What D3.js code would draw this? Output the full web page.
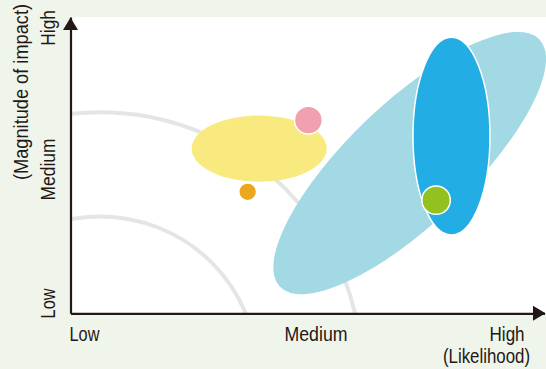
<!DOCTYPE html>
<html>
<head>
<meta charset="utf-8">
<script src="https://cdn.jsdelivr.net/npm/d3@7"></script>
<style>
  html, body { margin: 0; padding: 0; background: #f0f5eb; }
  svg { display: block; }
</style>
</head>
<body>
<svg id="chart" width="546" height="369"></svg>
<script>
// Risk map: likelihood (x) against magnitude of impact (y) on a uniform grid.
const xTickLabels = ["Low", "Medium", "High"];
const xTickValues = [0, 8.27, 14.72];
const yTickLabels = ["Low", "Medium", "High"];
const yTickValues = [0.35, 4.87, 9.65];

// Risk zones: centre (likelihood, impact), half-extents along own axes, tilt (deg)
const zoneX = [6.37, 11.45, 12.86];
const zoneY = [5.56, 5.07, 5.98];
const zoneRx = [2.28, 6.05, 1.30];
const zoneRy = [1.12, 2.05, 3.34];
const zoneTilt = [0, -43.6, 0];

// Individual risks
const riskX = [8.03, 5.98, 12.34];
const riskY = [6.52, 4.10, 3.82];
const riskR = [0.47, 0.30, 0.48];

// Iso-risk contours around a common centre
const contourCentre = [1.0, -2.06];
const contourRadii = [5.33, 8.85];

const zoneFill = ["#f9ea80", "#a2d9e5", "#22ade4"];
const zoneStroke = ["none", "none", "#ffffff"];
const riskFill = ["#f0a0ae", "#eba720", "#93c120"];
const ink = "#231815";
const fontFamily = "'Liberation Sans Narrow', 'Arial Narrow', 'Liberation Sans', Arial, sans-serif";

const svg = d3.select("#chart");
const x = d3.scaleLinear().domain([0, 16]).range([70.5, 544.5]);
const y = d3.scaleLinear().domain([0, 10]).range([313.3, 17.05]);
const len = v => x(v) - x(0);

// plot area
svg.append("rect")
  .attr("x", 71).attr("y", 17)
  .attr("width", 546 - 71).attr("height", y(0) - 17)
  .attr("fill", "#ffffff");

svg.append("clipPath").attr("id", "plot-clip")
  .append("rect")
  .attr("x", 71.5).attr("y", 17)
  .attr("width", 546 - 71.5).attr("height", y(0) - 17);

// contours
svg.append("g").attr("clip-path", "url(#plot-clip)")
  .selectAll("circle").data(contourRadii).join("circle")
  .attr("cx", x(contourCentre[0]))
  .attr("cy", y(contourCentre[1]))
  .attr("r", d => len(d))
  .attr("fill", "none")
  .attr("stroke", "#e5e5e5")
  .attr("stroke-width", 4);

// zones
svg.append("g").selectAll("ellipse").data(zoneX).join("ellipse")
  .attr("transform", (d, i) => `translate(${x(zoneX[i])},${y(zoneY[i])}) rotate(${zoneTilt[i]})`)
  .attr("rx", (d, i) => len(zoneRx[i]))
  .attr("ry", (d, i) => len(zoneRy[i]))
  .attr("fill", (d, i) => zoneFill[i])
  .attr("stroke", (d, i) => zoneStroke[i])
  .attr("stroke-width", 1.5);

// risks
svg.append("g").selectAll("circle").data(riskX).join("circle")
  .attr("cx", (d, i) => x(riskX[i]))
  .attr("cy", (d, i) => y(riskY[i]))
  .attr("r", (d, i) => len(riskR[i]))
  .attr("fill", (d, i) => riskFill[i])
  .attr("stroke", "#ffffff")
  .attr("stroke-width", 1.5);

// x axis
const xTickWidths = [30, 63, 35];
const xAnchors = ["start", "middle", "middle"];
const gx = svg.append("g")
  .attr("transform", `translate(0,${y(0)})`)
  .call(d3.axisBottom(x).tickValues(xTickValues)
    .tickFormat((d, i) => xTickLabels[i]).tickSize(0).tickSizeOuter(0));
gx.select(".domain").attr("stroke", ink).attr("stroke-width", 2.2);
gx.selectAll(".tick text")
  .attr("y", 27.6).attr("dy", null)
  .attr("font-family", fontFamily).attr("font-size", 21).attr("fill", ink)
  .attr("text-anchor", (d, i) => xAnchors[i])
  .attr("x", (d, i) => i === 0 ? -1.5 : 0)
  .attr("textLength", (d, i) => xTickWidths[i])
  .attr("lengthAdjust", "spacingAndGlyphs");
gx.append("path")
  .attr("d", `M${x(16) + 1},0L${x(16) - 11.5},-7.5L${x(16) - 11.5},7.5Z`)
  .attr("fill", ink);

// y axis
const yTickWidths = [30, 62, 35.5];
const gy = svg.append("g")
  .attr("transform", `translate(${x(0)},0)`)
  .call(d3.axisLeft(y).tickValues(yTickValues)
    .tickFormat((d, i) => yTickLabels[i]).tickSize(0).tickSizeOuter(0));
gy.select(".domain").attr("stroke", ink).attr("stroke-width", 2.2);
gy.selectAll(".tick text")
  .attr("x", 0).attr("y", 0).attr("dy", null)
  .attr("transform", `translate(${55 - x(0)},0) rotate(-90)`)
  .attr("font-family", fontFamily).attr("font-size", 21).attr("fill", ink)
  .attr("text-anchor", "middle")
  .attr("textLength", (d, i) => yTickWidths[i])
  .attr("lengthAdjust", "spacingAndGlyphs");
gy.append("path")
  .attr("d", `M0,${y(10) + 0.5}L-7.5,${y(10) + 13}L7.5,${y(10) + 13}Z`)
  .attr("fill", ink);

// axis titles
svg.append("text")
  .attr("x", 530).attr("y", 363)
  .attr("text-anchor", "end")
  .attr("font-family", fontFamily).attr("font-size", 21).attr("fill", ink)
  .attr("textLength", 87).attr("lengthAdjust", "spacingAndGlyphs")
  .text("(Likelihood)");

svg.append("text")
  .attr("transform", "translate(28,92) rotate(-90)")
  .attr("text-anchor", "middle")
  .attr("font-family", fontFamily).attr("font-size", 21).attr("fill", ink)
  .attr("textLength", 176).attr("lengthAdjust", "spacingAndGlyphs")
  .text("(Magnitude of impact)");
</script>
</body>
</html>
